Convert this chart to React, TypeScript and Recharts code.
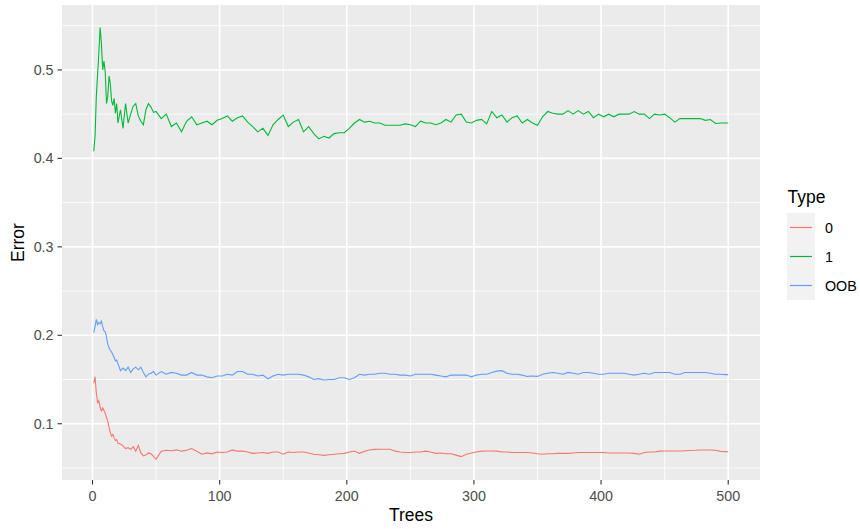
import React from 'react';
import { LineChart, Line, XAxis, YAxis, CartesianGrid, Legend } from 'recharts';

const FONT = '"Liberation Sans", Arial, Helvetica, sans-serif';

const trees = [
  1, 2, 3, 4, 5, 6, 7, 8, 9, 10, 11, 12, 13, 14, 15, 16, 17, 18, 19, 20,
  22, 24, 26, 28, 30, 32, 34, 36, 38, 40, 42, 44, 46, 48, 50,
  54, 58, 62, 66, 70, 74, 78, 82, 86, 90,
  94, 98, 102, 106, 110, 114, 118, 122, 126, 130,
  134, 138, 142, 146, 150, 154, 158, 162, 166, 170,
  174, 178, 182, 186, 190, 194, 198, 202, 206, 210,
  214, 218, 222, 226, 230, 234, 238, 242, 246, 250,
  254, 258, 262, 266, 270, 274, 278, 282, 286, 290,
  294, 298, 302, 306, 310, 314, 318, 322, 326, 330,
  334, 338, 342, 346, 350, 354, 358, 362, 366, 370,
  374, 378, 382, 386, 390, 394, 398, 402, 406, 410,
  414, 418, 422, 426, 430, 434, 438, 442, 446, 450,
  454, 458, 462, 466, 470, 474, 478, 482, 486, 490,
  494, 498,
  500,
];

const error0 = [
  0.146, 0.153, 0.135, 0.124, 0.126, 0.118, 0.1145, 0.118, 0.115, 0.112, 0.107, 0.103, 0.096, 0.09, 0.086, 0.088, 0.084, 0.081, 0.082, 0.078,
  0.077, 0.075, 0.072, 0.073, 0.071, 0.074, 0.069, 0.0757, 0.067, 0.0636, 0.065, 0.067, 0.066, 0.063, 0.0598,
  0.069, 0.07, 0.0695, 0.0705, 0.069, 0.07, 0.0719, 0.069, 0.0655, 0.067,
  0.066, 0.068, 0.0675, 0.068, 0.0704, 0.069, 0.0692, 0.068, 0.0665, 0.067,
  0.0675, 0.0665, 0.068, 0.068, 0.0655, 0.068, 0.0675, 0.068, 0.068, 0.067,
  0.0655, 0.065, 0.0643, 0.065, 0.0655, 0.066, 0.0665, 0.068, 0.0692, 0.0665,
  0.069, 0.0704, 0.071, 0.0711, 0.0711, 0.0711, 0.069, 0.068, 0.0675, 0.0675,
  0.068, 0.068, 0.069, 0.068, 0.0665, 0.067, 0.066, 0.066, 0.0645, 0.0628,
  0.0655, 0.067, 0.068, 0.069, 0.0692, 0.0692, 0.069, 0.068, 0.068, 0.0675,
  0.0675, 0.0675, 0.0675, 0.067, 0.066, 0.0655, 0.066, 0.066, 0.0665, 0.0665,
  0.0665, 0.067, 0.0675, 0.0675, 0.0675, 0.0675, 0.0675, 0.0675, 0.067, 0.067,
  0.067, 0.067, 0.067, 0.0665, 0.0655, 0.0675, 0.068, 0.068, 0.069, 0.0692,
  0.0692, 0.0692, 0.0692, 0.0695, 0.0698, 0.07, 0.0704, 0.0704, 0.0704, 0.07,
  0.0688, 0.0685,
  0.0684,
];

const error1 = [
  0.408, 0.425, 0.47, 0.495, 0.52, 0.548, 0.53, 0.5, 0.51, 0.498, 0.462, 0.47, 0.493, 0.485, 0.465, 0.46, 0.468, 0.451, 0.462, 0.44,
  0.455, 0.434, 0.462, 0.44, 0.45, 0.459, 0.462, 0.448, 0.442, 0.438, 0.455, 0.462, 0.458, 0.452, 0.453,
  0.445, 0.45, 0.436, 0.44, 0.43, 0.442, 0.447, 0.438, 0.44, 0.442,
  0.438, 0.443, 0.445, 0.448, 0.442, 0.446, 0.448, 0.441, 0.436, 0.43,
  0.434, 0.426, 0.438, 0.444, 0.449, 0.436, 0.441, 0.444, 0.43, 0.436,
  0.428, 0.422, 0.425, 0.423, 0.428, 0.429, 0.429, 0.434, 0.44, 0.444,
  0.441, 0.442, 0.44, 0.44, 0.4375, 0.4375, 0.4375, 0.4375, 0.439, 0.438,
  0.436, 0.442, 0.44, 0.44, 0.438, 0.44, 0.444, 0.441, 0.449, 0.45,
  0.441, 0.44, 0.443, 0.444, 0.439, 0.453, 0.446, 0.449, 0.441, 0.446,
  0.448, 0.44, 0.444, 0.44, 0.4375, 0.447, 0.453, 0.451, 0.45, 0.45,
  0.454, 0.45, 0.454, 0.45, 0.453, 0.446, 0.45, 0.447, 0.45, 0.447,
  0.45, 0.45, 0.45, 0.453, 0.45, 0.45, 0.445, 0.45, 0.449, 0.45,
  0.446, 0.441, 0.445, 0.445, 0.445, 0.445, 0.445, 0.443, 0.444, 0.4395,
  0.44, 0.44,
  0.44,
];

const errorOOB = [
  0.203, 0.21, 0.218, 0.212, 0.2146, 0.213, 0.216, 0.21, 0.205, 0.204, 0.198, 0.19, 0.186, 0.183, 0.181, 0.178, 0.175, 0.171, 0.172, 0.168,
  0.16, 0.163, 0.16, 0.164, 0.158, 0.162, 0.164, 0.161, 0.164, 0.158, 0.153, 0.156, 0.157, 0.159, 0.155,
  0.159, 0.156, 0.158, 0.157, 0.155, 0.155, 0.158, 0.155, 0.155, 0.153,
  0.152, 0.154, 0.154, 0.156, 0.155, 0.159, 0.159, 0.156, 0.156, 0.154,
  0.155, 0.1508, 0.154, 0.156, 0.155, 0.156, 0.156, 0.156, 0.155, 0.153,
  0.15, 0.151, 0.1494, 0.15, 0.15, 0.152, 0.152, 0.15, 0.152, 0.156,
  0.155, 0.156, 0.156, 0.157, 0.157, 0.156, 0.156, 0.155, 0.155, 0.154,
  0.156, 0.156, 0.156, 0.156, 0.155, 0.154, 0.153, 0.155, 0.155, 0.155,
  0.155, 0.153, 0.155, 0.156, 0.156, 0.158, 0.1595, 0.16, 0.157, 0.156,
  0.156, 0.155, 0.1535, 0.154, 0.1535, 0.156, 0.157, 0.158, 0.157, 0.156,
  0.158, 0.157, 0.156, 0.158, 0.158, 0.157, 0.156, 0.156, 0.157, 0.157,
  0.157, 0.157, 0.156, 0.155, 0.156, 0.157, 0.156, 0.158, 0.158, 0.158,
  0.158, 0.156, 0.156, 0.158, 0.158, 0.158, 0.158, 0.158, 0.157, 0.156,
  0.156, 0.1555,
  0.1555,
];

const xTicks = [0, 100, 200, 300, 400, 500];
const xMinor = [50, 150, 250, 350, 450];
const yTicks = [0.1, 0.2, 0.3, 0.4, 0.5];
const yMinor = [0.05, 0.15, 0.25, 0.35, 0.45, 0.55];
const seriesKeys = ['e0', 'e1', 'oob'];
const seriesNames = ['0', '1', 'OOB'];
const seriesColors = ['#F8766D', '#00BA38', '#619CFF'];
const legendTitle = 'Type';

const data = trees.map((t, i) => ({
  trees: t,
  e0: error0[i],
  e1: error1[i],
  oob: errorOOB[i],
}));

const renderLegend = (props: any) => {
  const payload = props.payload || [];
  return (
    <svg width={84} height={125} style={{ display: 'block' }}>
      <text x={11.5} y={18} fontSize={17.5} fill="#000" fontFamily={FONT}>
        {legendTitle}
      </text>
      {payload.map((p: any, i: number) => {
        const top = 28 + i * 29;
        const cy = top + 14.5;
        return (
          <g key={i}>
            <rect x={11} y={top} width={28} height={29} fill="#F2F2F2" />
            <line x1={14} x2={36} y1={cy} y2={cy} stroke={p.color} strokeWidth={1.2} />
            <text x={49} y={cy + 5} fontSize={14.3} fill="#000" fontFamily={FONT}>
              {p.value}
            </text>
          </g>
        );
      })}
    </svg>
  );
};

const tickStyle = { fill: '#4D4D4D', fontSize: 14.3, fontFamily: FONT };

export default function App() {
  return (
    <div style={{ position: 'absolute', left: 0, top: 0, background: '#fff' }}>
      <LineChart
        width={860}
        height={529}
        data={data}
        margin={{ top: 5, right: 16, bottom: 4, left: 0 }}
      >
        <CartesianGrid
          fill="#EBEBEB"
          stroke="#FFFFFF"
          strokeWidth={0.8}
          horizontalValues={yMinor}
          verticalValues={xMinor}
        />
        <CartesianGrid
          stroke="#FFFFFF"
          strokeWidth={1.6}
          horizontalValues={yTicks}
          verticalValues={xTicks}
        />
        <XAxis
          dataKey="trees"
          type="number"
          domain={[-24, 525]}
          allowDataOverflow
          ticks={xTicks}
          interval={0}
          height={45}
          axisLine={false}
          tickLine={{ stroke: '#333333', strokeWidth: 1.1 }}
          tickSize={4.5}
          tickMargin={6}
          tick={tickStyle}
          label={{
            content: (p: any) => {
              const vb = p.viewBox || {};
              return (
                <text
                  x={vb.x + vb.width / 2}
                  y={521}
                  textAnchor="middle"
                  fontSize={17.5}
                  fill="#000"
                  fontFamily={FONT}
                >
                  Trees
                </text>
              );
            },
          }}
        />
        <YAxis
          type="number"
          domain={[0.0364, 0.5734]}
          allowDataOverflow
          ticks={yTicks}
          interval={0}
          width={62}
          axisLine={false}
          tickLine={{ stroke: '#333333', strokeWidth: 1.1 }}
          tickSize={4.5}
          tickMargin={4}
          tick={tickStyle}
          tickFormatter={(v: number) => v.toFixed(1)}
          label={{
            content: (p: any) => {
              const vb = p.viewBox || {};
              const cy = vb.y + vb.height / 2;
              return (
                <text
                  x={24}
                  y={cy}
                  textAnchor="middle"
                  fontSize={17.5}
                  fill="#000"
                  fontFamily={FONT}
                  transform={`rotate(-90, 24, ${cy})`}
                >
                  Error
                </text>
              );
            },
          }}
        />
        <Legend
          layout="vertical"
          align="right"
          verticalAlign="middle"
          width={84}
          content={renderLegend}
          wrapperStyle={{ left: 776, top: 185, width: 84, height: 125 }}
        />
        {seriesKeys.map((k, i) => (
          <Line
            key={k}
            type="linear"
            dataKey={k}
            name={seriesNames[i]}
            stroke={seriesColors[i]}
            strokeWidth={1.1}
            dot={false}
            activeDot={false}
            isAnimationActive={false}
          />
        ))}
      </LineChart>
    </div>
  );
}
